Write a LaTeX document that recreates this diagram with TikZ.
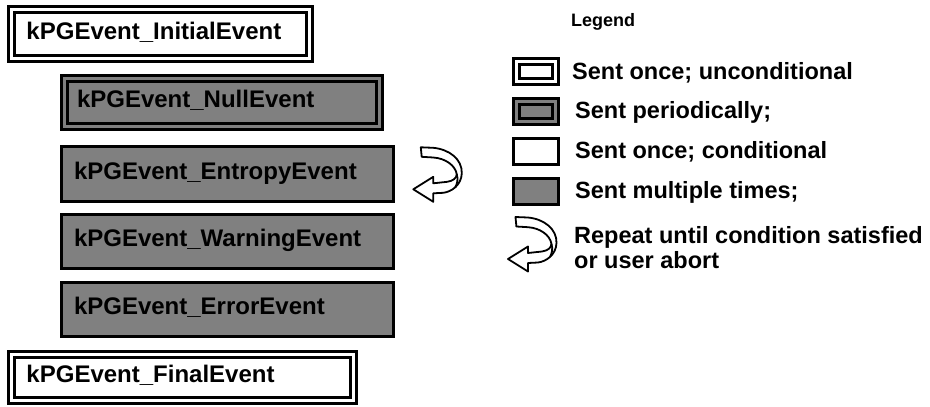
\documentclass[tikz,border=0pt]{standalone}
\usepackage{fontspec}
\setmainfont{Liberation Sans}
\definecolor{evgray}{RGB}{128,128,128}
\tikzset{
  evtext/.style={font=\bfseries\fontsize{24}{28}\selectfont,
    text height=15pt, text depth=5pt, align=left},
  legtext/.style={font=\bfseries\fontsize{23.5}{28}\selectfont, anchor=base west, inner sep=0pt},
  % sent once, unconditional: white box with double border
  onceuncond/.style={evtext, draw, fill=white, line width=2.8pt,
    double=white, double distance=3.4pt},
  % sent periodically: gray box with double border
  periodic/.style={evtext, draw, fill=evgray, line width=2.8pt,
    double=evgray, double distance=3.4pt},
  % sent multiple times: gray box, single border
  multiple/.style={evtext, draw, fill=evgray, line width=3pt},
  legdouble/.style={draw, line width=3pt, double distance=2.6pt, inner sep=0pt,
    minimum width=39.5pt, minimum height=20.5pt},
  legsingle/.style={draw, line width=3pt, inner sep=0pt,
    minimum width=45pt, minimum height=26pt},
  pics/repeatarrow/.style={code={
    \draw[line width=1.8pt, fill=white, line join=round]
      (0,0) -- (20,-12.5) -- (20,-6) -- (34,-7.5)
      .. controls (40,-8.5) and (43,-11) .. (43.5,-15)
      .. controls (42,-24) and (32,-31) .. (20,-31.8)
      -- (8.4,-32.5) -- (7.5,-42) -- (20,-41.5)
      .. controls (36,-40) and (49,-30) .. (48.5,-16)
      .. controls (48,-4) and (38,2.5) .. (30,3.5)
      -- (20,4) -- (20,12.5) -- cycle;
    \draw[line width=1.8pt] (43.5,-15) .. controls (45,-10) and (44,-6) .. (42,-2);
  }}
}
\begin{document}
\begin{tikzpicture}[x=1pt,y=-1pt]
  \fill[white] (0,0) rectangle (930,407);
  \useasboundingbox (0,0) rectangle (930,407);

  % event sequence
  \node[onceuncond, minimum width=298pt, minimum height=49pt, inner xsep=15pt, text width=268pt]
    (initial) at (160.5,34) {kPGEvent\_InitialEvent};
  \node[periodic, minimum width=315pt, minimum height=48pt, inner xsep=12.5pt, text width=290pt]
    (null) at (222,102.5) {kPGEvent\_NullEvent};
  \node[multiple, minimum width=332pt, minimum height=55pt, inner xsep=12.5pt, text width=307pt]
    (entropy) at (227.5,174) {kPGEvent\_EntropyEvent};
  \node[multiple, minimum width=332pt, minimum height=54pt, inner xsep=12.5pt, text width=307pt]
    (warning) at (227.5,241.5) {kPGEvent\_WarningEvent};
  \node[multiple, minimum width=332pt, minimum height=54pt, inner xsep=12.5pt, text width=307pt]
    (error) at (227.5,309.5) {kPGEvent\_ErrorEvent};
  \node[onceuncond, minimum width=342pt, minimum height=46pt, inner xsep=15pt, text width=312pt]
    (final) at (182.5,377.5) {kPGEvent\_FinalEvent};

  % repeat marker beside the entropy event
  \pic at (413.3,189.3) {repeatarrow};

  % legend
  \node[font=\bfseries\fontsize{18}{20}\selectfont, anchor=base west, inner sep=0pt]
    (legend) at (571,26) {Legend};
  \node[legdouble, fill=white, double=white] (keyonce) at (536,71.5) {};
  \node[legdouble, fill=evgray, double=evgray] (keyperiodic) at (536,111.5) {};
  \node[legsingle, fill=white] (keycond) at (536,151.5) {};
  \node[legsingle, fill=evgray] (keymulti) at (536,191.5) {};
  \pic at (508,259) {repeatarrow};

  \node[legtext] (txtonce) at (572,79) {Sent once; unconditional};
  \node[legtext] (txtperiodic) at (575,118) {Sent periodically;};
  \node[legtext] (txtcond) at (575,158) {Sent once; conditional};
  \node[legtext] (txtmulti) at (575,198) {Sent multiple times;};
  \node[legtext] (txtrepeat) at (574,243) {Repeat until condition satisfied};
  \node[legtext] (txtabort) at (574,268) {or user abort};
\end{tikzpicture}
\end{document}
